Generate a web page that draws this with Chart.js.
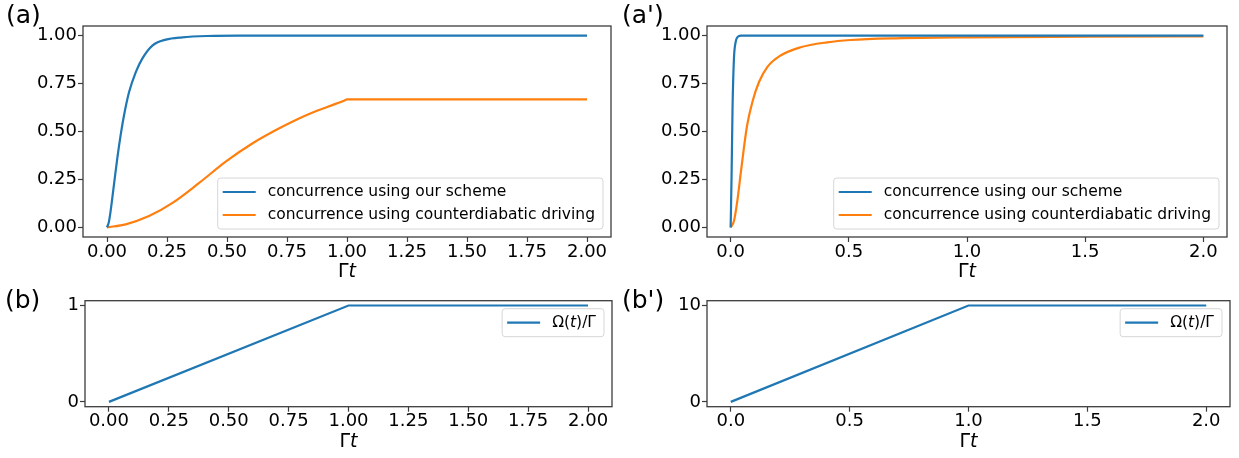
<!DOCTYPE html>
<html>
<head>
<meta charset="utf-8">
<script src="https://cdn.jsdelivr.net/npm/chart.js@4/dist/chart.umd.min.js"></script>
<style>
  html, body { margin: 0; padding: 0; background: #fff; }
  #wrap { position: relative; width: 1239px; height: 458px; overflow: hidden; font-family: 'DejaVu Sans', sans-serif; }
  #wrap canvas { position: absolute; }
  .tag { position: absolute; font-size: 25px; line-height: 25px; color: #000; white-space: nowrap; }
</style>
</head>
<body>
<div id="wrap">
  <canvas id="chartA" width="620" height="285" style="left:0;top:0"></canvas>
  <canvas id="chartA2" width="619" height="285" style="left:620px;top:0"></canvas>
  <canvas id="chartB" width="620" height="173" style="left:0;top:285px"></canvas>
  <canvas id="chartB2" width="619" height="173" style="left:620px;top:285px"></canvas>
  <div class="tag" style="left:6px;top:2px">(a)</div>
  <div class="tag" style="left:622px;top:2px">(a')</div>
  <div class="tag" style="left:5px;top:287px">(b)</div>
  <div class="tag" style="left:622px;top:287px">(b')</div>
</div>
<script>
// --- values ---
const labelOurs = 'concurrence using our scheme';
const labelCD = 'concurrence using counterdiabatic driving';
const labelOmega = 'Ω($t$)/Γ';
const xTitle = 'Γ$t$';

// (a) Omega_max = Gamma
const tOursA = [0, 0.008, 0.015, 0.029, 0.043, 0.057, 0.071, 0.092, 0.12, 0.147, 0.189, 0.245, 0.314, 0.42, 0.55, 2.0];
const cOursA = [0, 0.03, 0.085, 0.223, 0.361, 0.482, 0.585, 0.706, 0.81, 0.88, 0.948, 0.979, 0.991, 0.998, 1.0, 1.0];
const tCDA = [0, 0.078, 0.175, 0.273, 0.384, 0.496, 0.607, 0.718, 0.83, 0.92, 0.99, 1.0, 2.0];
const cCDA = [0, 0.016, 0.059, 0.128, 0.232, 0.344, 0.439, 0.517, 0.585, 0.629, 0.662, 0.667, 0.667];

// (a') Omega_max = 10 Gamma
const tOursA2 = [0, 0.004, 0.008, 0.014, 0.021, 0.032, 0.045, 2.0];
const cOursA2 = [0, 0.27, 0.62, 0.88, 0.965, 0.995, 1.0, 1.0];
const tCDA2 = [0, 0.014, 0.028, 0.042, 0.056, 0.07, 0.092, 0.12, 0.155, 0.211, 0.296, 0.409, 0.507, 0.7, 1.0, 1.5, 2.0];
const cCDA2 = [0, 0.033, 0.136, 0.275, 0.413, 0.534, 0.654, 0.758, 0.836, 0.896, 0.939, 0.965, 0.977, 0.986, 0.991, 0.994, 0.996];

// (b), (b') driving ramp
const tOmega = [0, 1, 2];
const omegaB = [0, 1, 1];
const omegaB2 = [0, 10, 10];

// tick labels
const xTicksFine = [0, 0.25, 0.5, 0.75, 1, 1.25, 1.5, 1.75, 2];
const xTicksCoarse = [0, 0.5, 1, 1.5, 2];
const yTicksConc = [0, 0.25, 0.5, 0.75, 1];
const yTicksB = [0, 1];
const yTicksB2 = [0, 10];

const BLUE = '#1f77b4';
const ORANGE = '#ff7f0e';
const FONT = "'DejaVu Sans', sans-serif";

const pts = (xs, ys) => xs.map((x, i) => ({ x: x, y: ys[i] }));

// text between $...$ is set in italic, like mathtext
function drawMath(ctx, text, x, y, size, align) {
  const parts = text.split('$').map((s, i) => ({ s: s, it: i % 2 === 1 }));
  const fontOf = p => (p.it ? 'italic ' : '') + size + 'px ' + FONT;
  let w = 0;
  parts.forEach(p => { ctx.font = fontOf(p); w += ctx.measureText(p.s).width; });
  let cx = align === 'center' ? x - w / 2 : x;
  ctx.textAlign = 'left';
  ctx.textBaseline = 'middle';
  parts.forEach(p => {
    ctx.font = fontOf(p);
    ctx.fillText(p.s, cx, y);
    cx += ctx.measureText(p.s).width;
  });
  return w;
}

function mathWidth(ctx, text, size) {
  let w = 0;
  text.split('$').forEach((s, i) => {
    ctx.font = (i % 2 ? 'italic ' : '') + size + 'px ' + FONT;
    w += ctx.measureText(s).width;
  });
  return w;
}

// spines, x label and an in-axes legend
const mplFrame = {
  id: 'mplFrame',
  afterDatasetsDraw(chart, args, opts) {
    const ctx = chart.ctx;
    const a = chart.chartArea;
    ctx.save();
    ctx.strokeStyle = '#3c3c3c';
    ctx.lineWidth = 1.3;
    ctx.strokeRect(a.left, a.top, a.right - a.left, a.bottom - a.top);

    ctx.fillStyle = '#000';
    drawMath(ctx, xTitle, (a.left + a.right) / 2, a.bottom + 35, 19, 'center');

    const sets = chart.data.datasets;
    const size = 15.5;
    const maxW = Math.max(...sets.map(ds => mathWidth(ctx, ds.label, size)));
    const rowH = 23;
    const w = 50 + maxW + 8;
    const h = sets.length * rowH + 5;
    const bx = a.right - opts.inset - w;
    const by = opts.loc === 'upper right' ? a.top + opts.inset : a.bottom - opts.inset - h;
    ctx.beginPath();
    ctx.roundRect(bx, by, w, h, 3);
    ctx.fillStyle = 'rgba(255,255,255,0.8)';
    ctx.fill();
    ctx.strokeStyle = '#d6d6d6';
    ctx.lineWidth = 1;
    ctx.stroke();
    sets.forEach((ds, i) => {
      const y = by + 14 + i * rowH;
      ctx.beginPath();
      ctx.moveTo(bx + 5, y);
      ctx.lineTo(bx + 38, y);
      ctx.strokeStyle = ds.borderColor;
      ctx.lineWidth = 2.2;
      ctx.stroke();
      ctx.fillStyle = '#000';
      drawMath(ctx, ds.label, bx + 50, y, size, 'left');
    });
    ctx.restore();
  }
};

// area = [left, top, right, bottom] of the axes box inside the canvas
function panel(id, opt) {
  const canvas = document.getElementById(id);
  const W = canvas.width, H = canvas.height, A = opt.area;
  const tickFont = { family: FONT, size: 18, lineHeight: 1 };
  return new Chart(canvas, {
    type: 'line',
    data: { datasets: opt.datasets },
    options: {
      responsive: false,
      animation: false,
      events: [],
      layout: { padding: { left: 0, top: A[1], right: W - A[2], bottom: 0 } },
      elements: { point: { radius: 0 }, line: { borderWidth: 2.2 } },
      plugins: {
        legend: { display: false },
        tooltip: { enabled: false },
        mplFrame: { loc: opt.loc, inset: 8 }
      },
      scales: {
        x: {
          type: 'linear', min: -0.1, max: 2.1,
          afterBuildTicks: s => { s.ticks = opt.xTicks.map(v => ({ value: v })); },
          afterFit: s => { s.height = H - A[3]; },
          ticks: { callback: v => v.toFixed(opt.xDigits), font: tickFont, color: '#000', padding: 1, maxRotation: 0, autoSkip: false },
          grid: { drawOnChartArea: false, tickLength: 5, color: '#3c3c3c', tickWidth: 1.2 },
          border: { display: false }
        },
        y: {
          type: 'linear', min: opt.yMin, max: opt.yMax,
          afterBuildTicks: s => { s.ticks = opt.yTicks.map(v => ({ value: v })); },
          afterFit: s => { s.width = A[0]; },
          ticks: { callback: v => v.toFixed(opt.yDigits), font: tickFont, color: '#000', padding: 1, autoSkip: false },
          grid: { drawOnChartArea: false, tickLength: 5, color: '#3c3c3c', tickWidth: 1.2 },
          border: { display: false }
        }
      }
    },
    plugins: [mplFrame]
  });
}

panel('chartA', {
  area: [83, 26, 611, 237], loc: 'lower right',
  xTicks: xTicksFine, xDigits: 2, yTicks: yTicksConc, yDigits: 2, yMin: -0.05, yMax: 1.05,
  datasets: [
    { label: labelOurs, data: pts(tOursA, cOursA), borderColor: BLUE, cubicInterpolationMode: 'monotone' },
    { label: labelCD, data: pts(tCDA, cCDA), borderColor: ORANGE, cubicInterpolationMode: 'monotone' }
  ]
});

panel('chartA2', {
  area: [87, 26, 607, 237], loc: 'lower right',
  xTicks: xTicksCoarse, xDigits: 1, yTicks: yTicksConc, yDigits: 2, yMin: -0.05, yMax: 1.05,
  datasets: [
    { label: labelOurs, data: pts(tOursA2, cOursA2), borderColor: BLUE, cubicInterpolationMode: 'monotone' },
    { label: labelCD, data: pts(tCDA2, cCDA2), borderColor: ORANGE, cubicInterpolationMode: 'monotone' }
  ]
});

panel('chartB', {
  area: [85, 15.7, 612, 121.7], loc: 'upper right',
  xTicks: xTicksFine, xDigits: 2, yTicks: yTicksB, yDigits: 0, yMin: -0.05, yMax: 1.05,
  datasets: [
    { label: labelOmega, data: pts(tOmega, omegaB), borderColor: BLUE, tension: 0 }
  ]
});

panel('chartB2', {
  area: [87, 15.7, 610, 121.7], loc: 'upper right',
  xTicks: xTicksCoarse, xDigits: 1, yTicks: yTicksB2, yDigits: 0, yMin: -0.5, yMax: 10.5,
  datasets: [
    { label: labelOmega, data: pts(tOmega, omegaB2), borderColor: BLUE, tension: 0 }
  ]
});
</script>
</body>
</html>
